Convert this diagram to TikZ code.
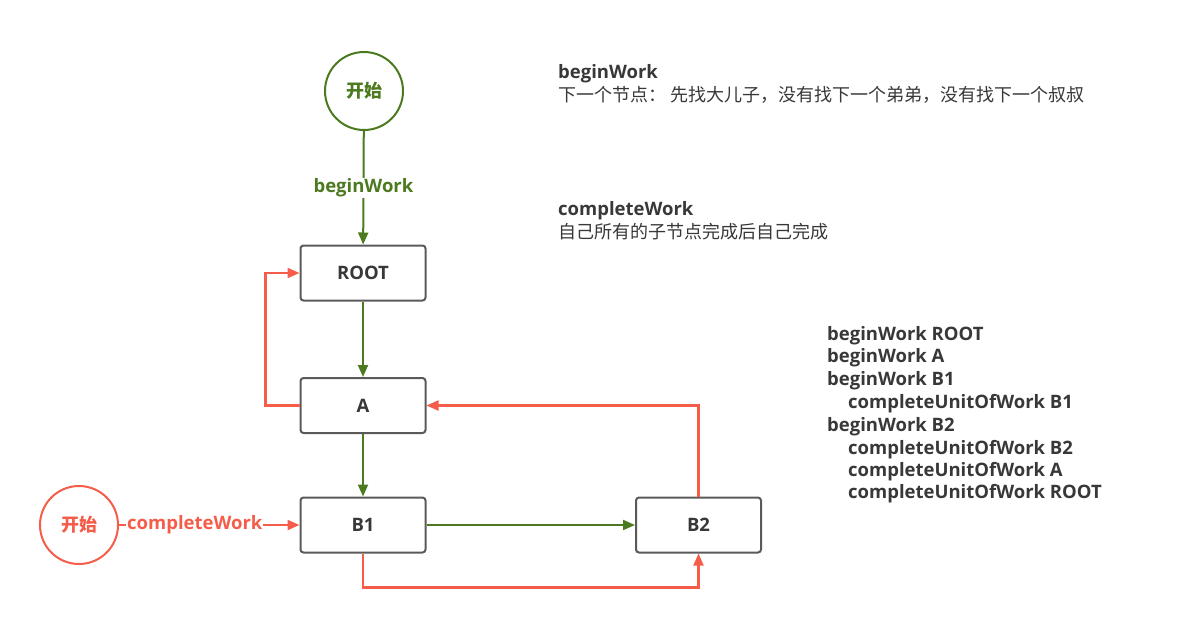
\documentclass[tikz,border=0pt]{standalone}
\usepackage{fontspec}
\setmainfont{Open Sans}
\newfontfamily\cjk{Noto Sans CJK SC}
\usetikzlibrary{arrows.meta}
\definecolor{flowgreen}{HTML}{4B7A1F}
\definecolor{flowred}{HTML}{F55D4A}
\definecolor{boxgray}{HTML}{5A5A5A}
\definecolor{txt}{HTML}{383838}
\begin{document}
\begin{tikzpicture}[x=1pt,y=-1pt,
  fiber/.style={draw=boxgray, line width=2pt, rounded corners=3pt,
    minimum width=125pt, minimum height=55pt, fill=white, text=txt,
    font=\bfseries\fontsize{18.5}{20}\selectfont},
  startnode/.style={circle, line width=2pt, minimum size=78pt, inner sep=0pt,
    font=\cjk\bfseries\fontsize{18}{20}\selectfont},
  tip/.style={-{Triangle[length=12pt,width=10pt]}},
  gline/.style={draw=flowgreen, line width=2pt, tip},
  rline/.style={draw=flowred, line width=2.1pt, tip},
  lbl/.style={fill=white, inner sep=1pt, font=\bfseries\fontsize{18.5}{20}\selectfont},
  note/.style={anchor=base west, inner sep=0pt, text=txt, font=\bfseries\fontsize{18.5}{20}\selectfont},
  cnote/.style={anchor=base west, inner sep=0pt, text=txt, font=\cjk\fontsize{18}{20}\selectfont},
]
\useasboundingbox (0,0) rectangle (1197,643);

% fiber nodes
\node[fiber] (root) at (363,273) {ROOT};
\node[fiber] (a)    at (363,405.5) {A};
\node[fiber] (b1)   at (363,525) {B1};
\node[fiber] (b2)   at (698.5,525) {B2};

% start points
\node[startnode, draw=flowgreen, text=flowgreen] (sbegin) at (364,91) {开始};
\node[startnode, draw=flowred, text=flowred] (scomplete) at (79,525) {开始};

% beginWork path (green)
\draw[gline] (sbegin) -- node[lbl, text=flowgreen, pos=0.5] {beginWork} (root);
\draw[gline] (root) -- (a);
\draw[gline] (a) -- (b1);
\draw[gline] (b1) -- (b2);

% completeWork path (red)
\draw[rline] (scomplete) -- node[lbl, text=flowred, pos=0.42] {completeWork} (b1);
\draw[rline] (b1.south) -- ++(0,34) -| (b2.south);
\draw[rline] (b2.north) |- (a.east);
\draw[rline] (a.west) -- ++(-34,0) |- (root.west);

% explanations
\node[note]  (bwtitle) at (558,78) {beginWork};
\node[cnote] (bwtext)  at (558,101) {下一个节点： 先找大儿子，没有找下一个弟弟，没有找下一个叔叔};
\node[note]  (cwtitle) at (558,215) {completeWork};
\node[cnote] (cwtext)  at (558,238) {自己所有的子节点完成后自己完成};

% call order
\node[note] (l1) at (827,340) {beginWork ROOT};
\node[note] (l2) at (827,362.5) {beginWork A};
\node[note] (l3) at (827,385) {beginWork B1};
\node[note] (l4) at (848,408) {completeUnitOfWork B1};
\node[note] (l5) at (827,431) {beginWork B2};
\node[note] (l6) at (848,454) {completeUnitOfWork B2};
\node[note] (l7) at (848,476) {completeUnitOfWork A};
\node[note] (l8) at (848,498.5) {completeUnitOfWork ROOT};
\end{tikzpicture}
\end{document}
